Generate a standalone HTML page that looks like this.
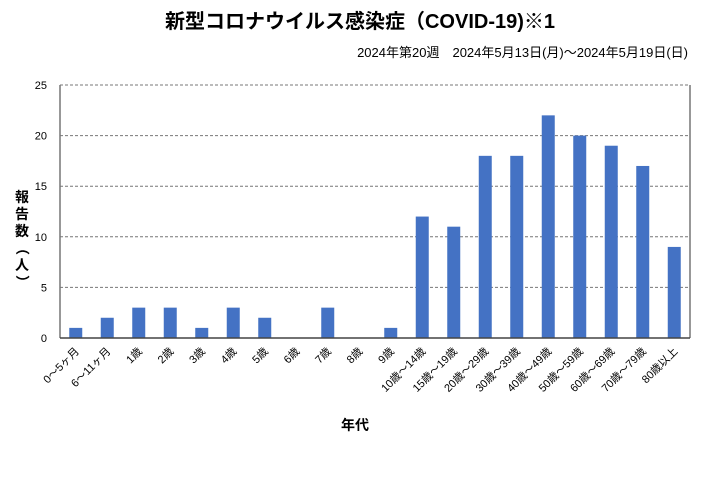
<!DOCTYPE html>
<html><head><meta charset="utf-8"><style>
body{margin:0;background:#fff;}
svg text{font-family:"Liberation Sans","Noto Sans CJK JP",sans-serif;}
</style></head><body>
<svg width="720" height="474" viewBox="0 0 720 474">
<text x="360" y="28" text-anchor="middle" font-size="20" font-weight="bold" fill="#000">新型コロナウイルス感染症（COVID-19)※1</text>
<text x="688" y="57" text-anchor="end" font-size="13" fill="#000">2024年第20週　2024年5月13日(月)～2024年5月19日(日)</text>
<g id="grid"></g>
<g id="bars"></g>
<g id="axes"></g>
<g font-size="14" font-weight="bold" text-anchor="middle">
<text x="22" y="202">報</text><text x="22" y="219">告</text><text x="22" y="236">数</text>
<text x="22" y="253" transform="rotate(90 22 248)">（</text><text x="22" y="270">人</text><text x="22" y="287" transform="rotate(90 22 282)">）</text>
</g>
<text x="355" y="430" text-anchor="middle" font-size="14" font-weight="bold">年代</text>
</svg>
<script>
const categories=["0～5ヶ月","6～11ヶ月","1歳","2歳","3歳","4歳","5歳","6歳","7歳","8歳","9歳","10歳～14歳","15歳～19歳","20歳～29歳","30歳～39歳","40歳～49歳","50歳～59歳","60歳～69歳","70歳～79歳","80歳以上"];
const values=[1,2,3,3,1,3,2,0,3,0,1,12,11,18,18,22,20,19,17,9];
const yTicks=[0,5,10,15,20,25];
const L=60,R=690,T=85,B=338,yMax=25;
const NS="http://www.w3.org/2000/svg";
function y(v){return B-(v/yMax)*(B-T);}
const band=(R-L)/categories.length;
function xc(i){return L+(i+0.5)*band;}
function mk(tag,attrs,parent){const e=document.createElementNS(NS,tag);for(const k in attrs)e.setAttribute(k,attrs[k]);parent.appendChild(e);return e;}
const grid=document.getElementById('grid'),bars=document.getElementById('bars'),axes=document.getElementById('axes');
yTicks.forEach(t=>{
  if(t>0){const l=mk('line',{x1:L,x2:R,y1:y(t),y2:y(t),stroke:'#777','stroke-dasharray':'3,2','stroke-width':1},grid);
  
  }
  const tx=mk('text',{x:L-13,y:y(t)+4,'text-anchor':'end','font-size':11},axes);
  tx.textContent=t;
  
  
});
const rb=mk('line',{x1:R,x2:R,y1:T,y2:B,stroke:'#777','stroke-width':1.5},axes);


const la=mk('line',{x1:L,x2:L,y1:T,y2:B,stroke:'#777','stroke-width':1.5},axes);


const ba=mk('line',{x1:L,x2:R,y1:B,y2:B,stroke:'#444','stroke-width':1.5},axes);


categories.forEach((c,i)=>{
  const v=values[i];
  if(v>0){const r=mk('rect',{x:xc(i)-6.5,y:y(v),width:13,height:B-y(v),fill:'#4472C4'},bars);
  
  }
  const tx=mk('text',{x:xc(i)+4,y:B+14,'text-anchor':'end','font-size':11,transform:`rotate(-45 ${xc(i)+4} ${B+14})`},axes);
  tx.textContent=c;
  
  
});
</script>
</body></html>
